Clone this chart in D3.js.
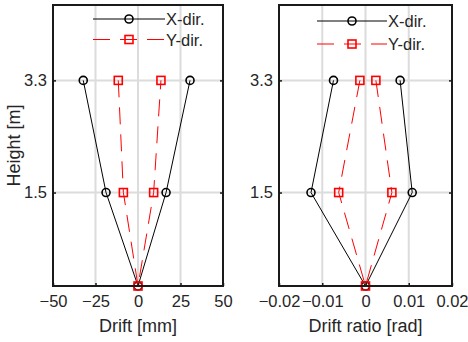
<!DOCTYPE html>
<html>
<head>
<meta charset="utf-8">
<script src="https://cdn.jsdelivr.net/npm/d3@7"></script>
<style>
  body { margin: 0; background: #fff; }
  svg { display: block; font-family: "Liberation Sans", Arial, sans-serif; }
</style>
</head>
<body>
<svg id="chart" width="468" height="342"></svg>
<script>
// storey heights [m]
const heights = [0, 1.5, 3.3];
const heightTicks = [1.5, 3.3];

// drift [mm], negative and positive peaks per height
const driftXNeg = [0, -18.8, -32.2];
const driftXPos = [0, 16.5, 30.6];
const driftYNeg = [0, -8.6, -11.6];
const driftYPos = [0, 9.2, 13.5];
const driftTicks = [-50, -25, 0, 25, 50];

// drift ratio [rad]
const ratioXNeg = [0, -0.0126, -0.0074];
const ratioXPos = [0, 0.0108, 0.0080];
const ratioYNeg = [0, -0.0062, -0.0013];
const ratioYPos = [0, 0.0061, 0.0024];
const ratioTicks = [-0.02, -0.01, 0, 0.01, 0.02];

const seriesNames = ["X-dir.", "Y-dir."];

const svg = d3.select("#chart");
const textColor = "#262626";
const tickFont = 16.5;

// join negative branch (top -> bottom) with positive branch (bottom -> top)
function profile(neg, pos) {
  const pts = [];
  for (let i = heights.length - 1; i >= 0; i--) pts.push([neg[i], heights[i]]);
  for (let i = 1; i < heights.length; i++) pts.push([pos[i], heights[i]]);
  return pts;
}

function drawPanel(opts) {
  const { left, right, domain, ticks, fmt, xLabel, series, legend, yLabel } = opts;
  const top = 5, bottom = 286;

  const x = d3.scaleLinear().domain(domain).range([left, right]);
  const y = d3.scaleLinear().domain([0, 4.51]).range([bottom, top]);
  const g = svg.append("g");

  // grid
  g.selectAll(".gx").data(ticks.slice(1, -1)).enter().append("line")
    .attr("x1", d => x(d)).attr("x2", d => x(d))
    .attr("y1", top).attr("y2", bottom)
    .attr("stroke", "#dcdcdc").attr("stroke-width", 2);
  g.selectAll(".gy").data(heightTicks).enter().append("line")
    .attr("x1", left).attr("x2", right)
    .attr("y1", d => y(d)).attr("y2", d => y(d))
    .attr("stroke", "#dcdcdc").attr("stroke-width", 2);

  // data lines
  const line = d3.line().x(d => x(d[0])).y(d => y(d[1]));
  series.forEach(s => {
    const pts = profile(s.neg, s.pos);
    g.append("path").attr("d", line(pts))
      .attr("fill", "none").attr("stroke", s.color).attr("stroke-width", 1)
      .attr("stroke-dasharray", s.dash);
    drawMarkers(g, pts.map(p => [x(p[0]), y(p[1])]), s);
  });

  // legend
  seriesNames.forEach((name, i) => {
    const s = series[i];
    const ly = legend.y + i * legend.dy;
    g.append("line").attr("x1", legend.x0).attr("x2", legend.x1)
      .attr("y1", ly).attr("y2", ly)
      .attr("stroke", s.color).attr("stroke-width", 1)
      .attr("stroke-dasharray", s.dash);
    drawMarkers(g, [[(legend.x0 + legend.x1) / 2, ly]], s);
    g.append("text").attr("x", legend.x1 + 1).attr("y", ly + 6)
      .attr("font-size", tickFont).attr("fill", textColor).text(name);
  });

  // axes box
  g.append("rect").attr("x", left).attr("y", top)
    .attr("width", right - left).attr("height", bottom - top)
    .attr("fill", "none").attr("stroke", "#1a1a1a").attr("stroke-width", 2);

  // x axis ticks + labels
  const xAxis = d3.axisBottom(x).tickValues(ticks).tickFormat(fmt).tickSize(-3).tickPadding(9);
  const ax = g.append("g").attr("transform", `translate(0,${bottom})`).call(xAxis);
  ax.select(".domain").remove();
  ax.selectAll("line").attr("stroke", "#1a1a1a").attr("stroke-width", 1.5);
  ax.selectAll("text").attr("font-size", tickFont).attr("fill", textColor)
    .attr("font-family", "Liberation Sans, Arial, sans-serif");

  // y axis ticks (left and right) + labels
  const yAxis = d3.axisLeft(y).tickValues(heightTicks).tickFormat(d3.format(".1f")).tickSize(-3).tickPadding(6);
  const ay = g.append("g").attr("transform", `translate(${left},0)`).call(yAxis);
  ay.select(".domain").remove();
  ay.selectAll("line").attr("stroke", "#1a1a1a").attr("stroke-width", 1.5);
  ay.selectAll("text").attr("font-size", tickFont).attr("fill", textColor)
    .attr("font-family", "Liberation Sans, Arial, sans-serif");
  const ayr = g.append("g").attr("transform", `translate(${right},0)`)
    .call(d3.axisRight(y).tickValues(heightTicks).tickFormat("").tickSize(-3));
  ayr.select(".domain").remove();
  ayr.selectAll("line").attr("stroke", "#1a1a1a").attr("stroke-width", 1.5);

  g.append("text").attr("x", (left + right) / 2).attr("y", 332)
    .attr("text-anchor", "middle").attr("font-size", 18).attr("fill", textColor)
    .text(xLabel);

  if (yLabel) {
    g.append("text").attr("transform", `translate(20,${(top + bottom) / 2}) rotate(-90)`)
      .attr("text-anchor", "middle").attr("font-size", 18).attr("fill", textColor)
      .text(yLabel);
  }
}

function drawMarkers(g, pts, s) {
  if (s.marker === "circle") {
    g.selectAll(null).data(pts).enter().append("circle")
      .attr("cx", d => d[0]).attr("cy", d => d[1]).attr("r", 4)
      .attr("fill", "none").attr("stroke", s.color).attr("stroke-width", 1.6);
  } else {
    g.selectAll(null).data(pts).enter().append("rect")
      .attr("x", d => d[0] - 4).attr("y", d => d[1] - 4)
      .attr("width", 8).attr("height", 8)
      .attr("fill", "none").attr("stroke", s.color).attr("stroke-width", 1.6);
  }
}

drawPanel({
  left: 53, right: 223,
  domain: [-50, 50], ticks: driftTicks, fmt: d3.format("d"),
  xLabel: "Drift [mm]", yLabel: "Height [m]",
  legend: { x0: 93, x1: 165, y: 19, dy: 20.5 },
  series: [
    { neg: driftXNeg, pos: driftXPos, color: "#000", dash: null, marker: "circle" },
    { neg: driftYNeg, pos: driftYPos, color: "#ff0000", dash: "17,10", marker: "square" }
  ]
});

drawPanel({
  left: 279, right: 452,
  domain: [-0.02, 0.02], ticks: ratioTicks, fmt: d => d === 0 ? "0" : d3.format(".2f")(d),
  xLabel: "Drift ratio [rad]",
  legend: { x0: 317, x1: 387, y: 21, dy: 23 },
  series: [
    { neg: ratioXNeg, pos: ratioXPos, color: "#000", dash: null, marker: "circle" },
    { neg: ratioYNeg, pos: ratioYPos, color: "#ff0000", dash: "17,10", marker: "square" }
  ]
});
</script>
</body>
</html>
